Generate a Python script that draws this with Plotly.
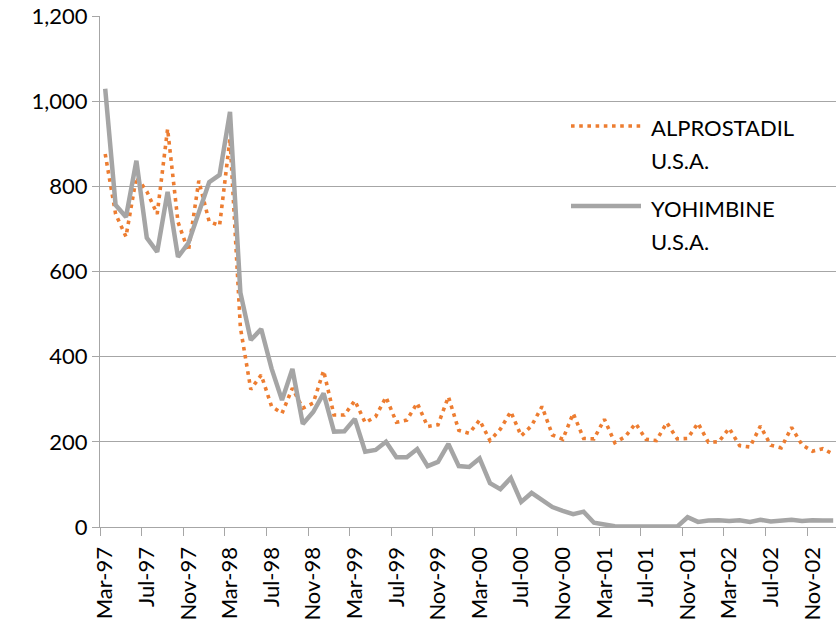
import plotly.graph_objects as go

# Monthly index Mar-97 .. Jan-03 (71 months)
tick_labels = ["Mar-97", "Jul-97", "Nov-97", "Mar-98", "Jul-98", "Nov-98",
               "Mar-99", "Jul-99", "Nov-99", "Mar-00", "Jul-00", "Nov-00",
               "Mar-01", "Jul-01", "Nov-01", "Mar-02", "Jul-02", "Nov-02"]

alprostadil = [876, 735, 682, 822, 788, 735, 935, 716, 648, 813, 717, 708,
               912, 468, 323, 357, 283, 267, 326, 279, 291, 367, 263, 263,
               297, 245, 259, 305, 246, 251, 291, 236, 240, 306, 227, 220,
               251, 203, 230, 271, 214, 238, 283, 216, 206, 267, 208, 207,
               253, 198, 212, 243, 206, 203, 245, 207, 208, 244, 199, 200,
               232, 191, 188, 237, 192, 186, 234, 193, 178, 184, 171]

yohimbine = [1029, 756, 728, 860, 679, 646, 787, 634, 667, 738, 810, 827,
             975, 550, 439, 465, 372, 298, 371, 242, 270, 314, 224, 225,
             254, 177, 181, 200, 164, 164, 183, 143, 153, 195, 143, 141,
             161, 103, 89, 115, 59, 80, 62, 47, 38, 30, 36, 10,
             6, 2, 1, 1, 0, 0, 0, 1, 23, 12, 15, 16,
             14, 16, 12, 17, 13, 14, 17, 14, 16, 15, 15]

series_names = ["ALPROSTADIL", "YOHIMBINE"]
country = "U.S.A."

x_idx = list(range(len(yohimbine)))
tick_pos = list(range(0, len(tick_labels) * 4, 4))

FONT = "Lato"
GRID = "#a6a6a6"
ORANGE = "#ed7d31"
GREY = "#a5a5a5"

fig = go.Figure()
fig.add_trace(go.Scatter(x=x_idx, y=alprostadil, mode="lines",
                         name=series_names[0], showlegend=False,
                         line=dict(color=ORANGE, width=3.6, dash="3.6px,4.6px")))
fig.add_trace(go.Scatter(x=x_idx, y=yohimbine, mode="lines",
                         name=series_names[1], showlegend=False,
                         line=dict(color=GREY, width=4.5)))

# legend drawn in the plot area (line samples + two-line labels)
# helpers convert pixel positions to paper fractions (plot area 100..836 x 16..527)
def px_x(p):
    return (p - 100) / 736.0

def px_y(p):
    return (527 - p) / 511.0

fig.add_shape(type="line", xref="paper", yref="paper",
              x0=px_x(571), x1=px_x(641), y0=px_y(126), y1=px_y(126),
              line=dict(color=ORANGE, width=3.6, dash="3.6px,4.6px"))
fig.add_shape(type="line", xref="paper", yref="paper",
              x0=px_x(571), x1=px_x(641), y0=px_y(206), y1=px_y(206),
              line=dict(color=GREY, width=4.5))
for txt, yy in [(series_names[0], 127), (country, 160),
                (series_names[1], 208), (country, 241)]:
    fig.add_annotation(text=txt, xref="paper", yref="paper",
                       x=px_x(649), y=px_y(yy), xanchor="left", yanchor="middle",
                       showarrow=False, font=dict(family=FONT, size=22, color="#000000"))

fig.update_layout(
    width=836, height=629,
    margin=dict(l=100, r=0, t=16, b=102),
    paper_bgcolor="white", plot_bgcolor="white",
    font=dict(family=FONT, size=22, color="#000000"),
    showlegend=False,
)
fig.update_xaxes(
    range=[-0.5, 70.27], automargin=False,
    tickmode="array", tickvals=tick_pos, ticktext=tick_labels,
    tickangle=-90, ticks="", showgrid=False, zeroline=False,
    showline=True, linecolor=GRID, linewidth=1.3, ticklabelstandoff=10,
    tickfont=dict(family=FONT, size=22, color="#000000"),
    minor=dict(tickmode="linear", tick0=-0.5, dtick=4, ticks="outside",
               ticklen=8, tickcolor=GRID, tickwidth=1.3, showgrid=False),
)
fig.update_yaxes(
    range=[0, 1200], tickmode="linear", tick0=0, dtick=200, automargin=False,
    tickformat=",d", showgrid=True, gridcolor=GRID, gridwidth=1.3,
    zeroline=False, showline=True, linecolor=GRID, linewidth=1.3,
    ticks="outside", ticklen=7, tickcolor=GRID, tickwidth=1.3,
    tickfont=dict(family=FONT, size=22, color="#000000"),
)

# remove the browser's default 8px body margin so the figure sits at (0, 0)
fig.write_html("out.html", config={"displayModeBar": False},
               post_script="document.body.style.margin='0';")
